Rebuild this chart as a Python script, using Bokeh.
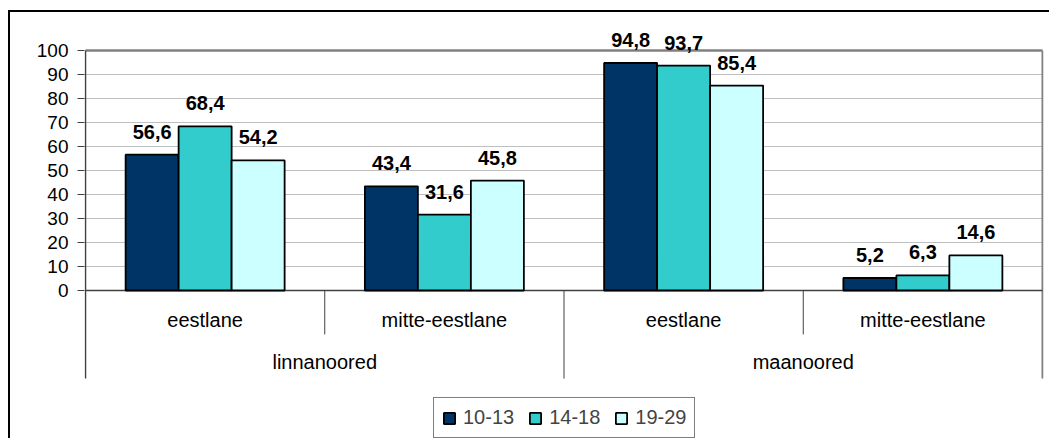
from bokeh.plotting import figure
from bokeh.models import ColumnDataSource, Range1d, FixedTicker, Legend, LegendItem
from bokeh.transform import dodge
from bokeh.core.properties import value
from bokeh.embed import file_html
from bokeh.resources import INLINE

# ---- data ----
groups = ["linnanoored", "maanoored"]
subcats = ["eestlane", "mitte-eestlane", "eestlane", "mitte-eestlane"]
series_names = ["10-13", "14-18", "19-29"]
s_10_13 = [56.6, 43.4, 94.8, 5.2]
s_14_18 = [68.4, 31.6, 93.7, 6.3]
s_19_29 = [54.2, 45.8, 85.4, 14.6]
colors = ["#003366", "#33CCCC", "#CCFFFF"]
y_ticks = [0, 10, 20, 30, 40, 50, 60, 70, 80, 90, 100]

FONT = "Liberation Sans"
px = 1 / 239.25
n = len(subcats)
centers = [i + 0.5 for i in range(n)]
bw = 53 * px

p = figure(width=1041, height=428, output_backend="svg", toolbar_location=None,
           x_range=Range1d(-px, n + px), y_range=Range1d(-62.5, 115.833),
           x_axis_location=None, min_border=0)
p.min_border_left = 74
p.min_border_right = 8
p.min_border_top = 0
p.min_border_bottom = 0
p.margin = (10, 0, 0, 8)
p.styles = {"border-left": "2px solid black", "border-top": "2px solid black"}
p.outline_line_color = None
p.background_fill_color = "white"
p.border_fill_color = "white"

# grid
p.xgrid.visible = False
p.ygrid.ticker = FixedTicker(ticks=y_ticks[1:-1])
p.ygrid.grid_line_color = "#C0C0C0"
p.ygrid.grid_line_width = 1

# y axis
ya = p.yaxis[0]
ya.ticker = FixedTicker(ticks=y_ticks)
ya.bounds = (0, 100)
ya.axis_line_color = None
ya.major_tick_out = 7
ya.major_tick_in = 0
ya.major_tick_line_color = "#404040"
ya.minor_tick_line_color = None
ya.major_label_standoff = 9
ya.major_label_text_font = FONT
ya.major_label_text_font_size = "19px"
ya.major_label_text_color = "black"

# plot area borders (top and right, gray)
p.segment(x0=[0], y0=[100], x1=[n], y1=[100], line_color="#808080", line_width=2.5)
p.segment(x0=[n], y0=[-36.7], x1=[n], y1=[100], line_color="#808080", line_width=2)
# left axis line (extends through category axis)
p.segment(x0=[0], y0=[-36.7], x1=[0], y1=[100], line_color="#404040", line_width=1.5)
# category axis line
p.segment(x0=[0], y0=[0], x1=[n], y1=[0], line_color="#404040", line_width=1.5)
# separators
p.segment(x0=[1, 3], y0=[-18.3, -18.3], x1=[1, 3], y1=[0, 0], line_color="#404040", line_width=1)
p.segment(x0=[2], y0=[-36.7], x1=[2], y1=[0], line_color="#404040", line_width=1)

# bars
src = ColumnDataSource(dict(x=centers, a=s_10_13, b=s_14_18, c=s_19_29,
                            la=[f"{v:.1f}".replace(".", ",") for v in s_10_13],
                            lb=[f"{v:.1f}".replace(".", ",") for v in s_14_18],
                            lc=[f"{v:.1f}".replace(".", ",") for v in s_19_29]))
renderers = []
for k, (col, lab, off) in enumerate([("a", "la", -bw), ("b", "lb", 0), ("c", "lc", bw)]):
    r = p.vbar(x=dodge("x", off, range=p.x_range), top=col, width=bw, source=src,
               fill_color=colors[k], line_color="black", line_width=1.8)
    renderers.append(r)
    p.text(x=dodge("x", off, range=p.x_range), y=col, text=lab, source=src,
           text_font=value(FONT), text_font_size="20px", text_font_style="bold",
           text_align="center", text_baseline="middle", y_offset=-23, text_color="black")

# category labels
p.text(x=centers, y=[0] * n, text=subcats, text_font=value(FONT), text_font_size="20px",
       text_align="center", text_baseline="middle", y_offset=30, text_color="black")
p.text(x=[1, 3], y=[0, 0], text=groups, text_font=value(FONT), text_font_size="20px",
       text_align="center", text_baseline="middle", y_offset=72, text_color="black")

# legend
legend = Legend(items=[LegendItem(label=s, renderers=[r]) for s, r in zip(series_names, renderers)],
                location=(349, 2), orientation="horizontal",
                border_line_color="black", border_line_width=1,
                padding=8, spacing=14, glyph_width=14, glyph_height=14,
                label_standoff=7, label_text_font=FONT, label_text_font_size="20px",
                label_height=19, margin=0, background_fill_alpha=1)
p.add_layout(legend)

open("out.html", "w").write(file_html(p, INLINE))
